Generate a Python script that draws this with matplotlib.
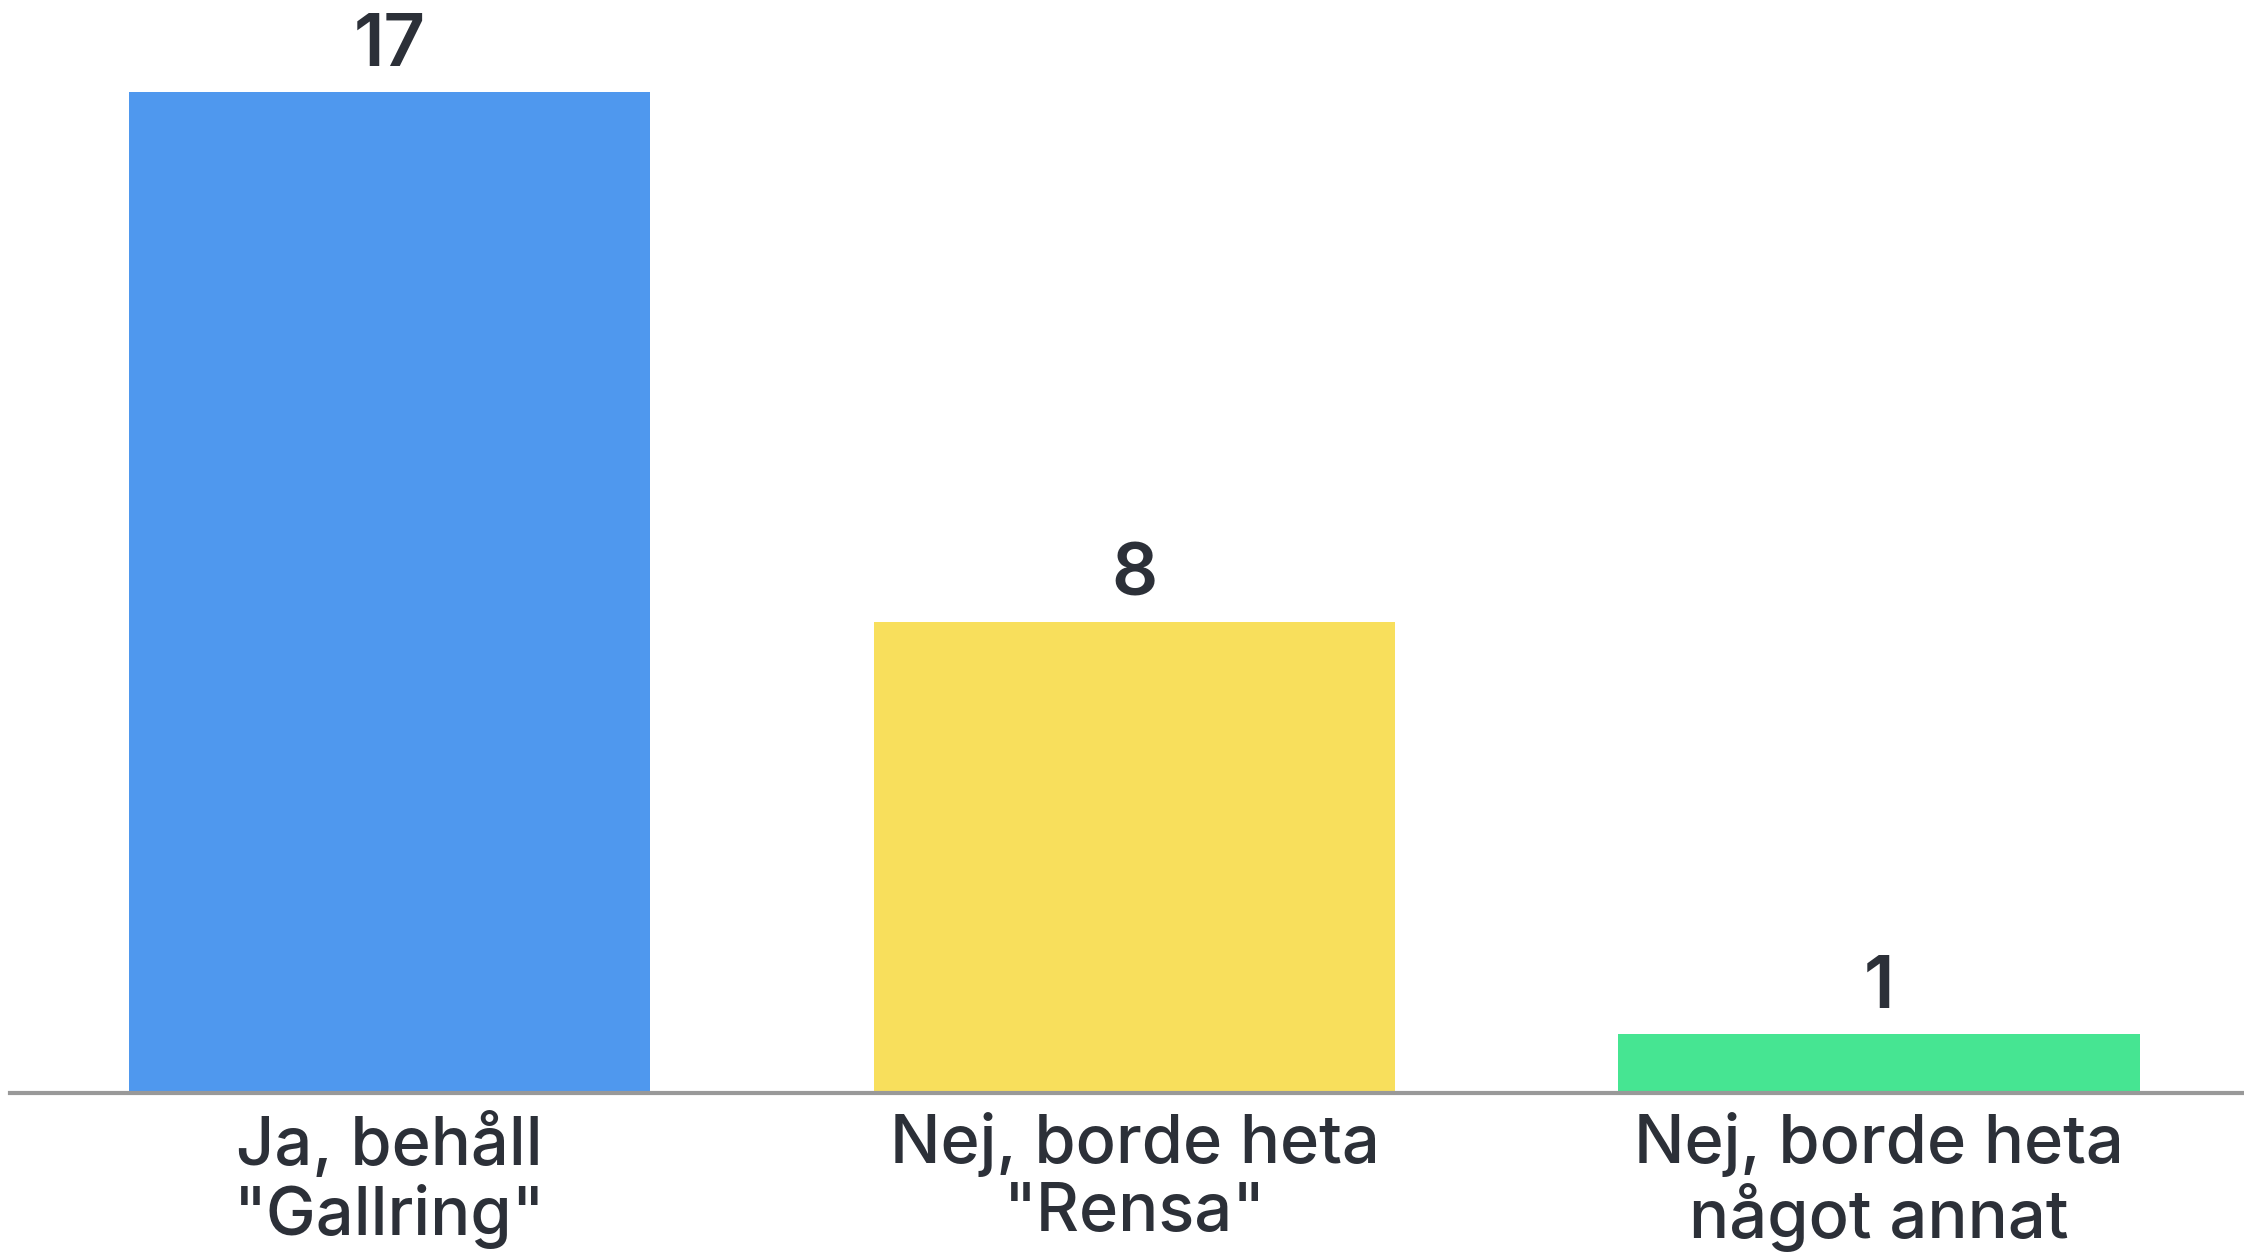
import matplotlib
matplotlib.use("Agg")
from matplotlib import pyplot as plt

categories = ['Ja, behåll\n"Gallring"', 'Nej, borde heta\n"Rensa"', 'Nej, borde heta\nnågot annat']
values = [17, 8, 1]
colors = ['#4f98ee', '#f8df5c', '#46e592']

textColor = '#2c3038'
plt.rcParams['font.family'] = ['Inter', 'DejaVu Sans']

fig = plt.figure(figsize=(22.44, 12.58), dpi=100)
ax = fig.add_axes([10/2244, 0.1312, 1 - 10/2244, 0.7957])

positions = list(range(len(values)))
bars = ax.bar(positions, values, width=0.7, color=colors, zorder=2)

for bar, value in zip(bars, values):
    ax.annotate(str(value), (bar.get_x() + bar.get_width()/2, bar.get_height()),
                xytext=(0, 8), textcoords='offset points', ha='center', va='bottom',
                fontsize=52, fontweight='semibold', color=textColor)

ax.set_xlim(-0.51, 2.49)
ax.set_ylim(0, 17)
ax.set_xticks(positions)
ax.set_xticklabels(categories, fontsize=48, fontweight='medium', color=textColor, linespacing=1.1)
ax.tick_params(axis='x', length=0, pad=14)
ax.set_yticks([])

for side in ['top', 'right', 'left']:
    ax.spines[side].set_visible(False)
ax.spines['bottom'].set_color('#999999')
ax.spines['bottom'].set_linewidth(3)
ax.spines['bottom'].set_zorder(3)

fig.savefig('out.png', dpi=100)
